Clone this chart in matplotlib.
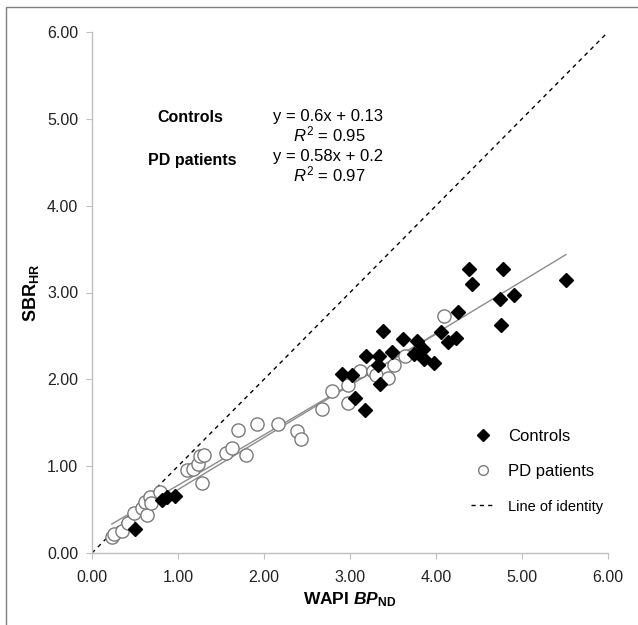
import matplotlib
matplotlib.use("Agg")
import matplotlib.pyplot as plt
from matplotlib.lines import Line2D
from matplotlib.patches import Rectangle

plt.rcParams['font.family'] = ['Liberation Sans', 'DejaVu Sans']
plt.rcParams['mathtext.fontset'] = 'custom'
plt.rcParams['mathtext.rm'] = 'Liberation Sans'
plt.rcParams['mathtext.it'] = 'Liberation Sans:italic'
plt.rcParams['mathtext.bf'] = 'Liberation Sans:bold'
plt.rcParams['mathtext.bfit'] = 'Liberation Sans:bold:italic'

# controls (filled diamonds)
controls_x = [0.50, 0.81, 0.87, 0.96, 2.91, 3.02, 3.06, 3.17, 3.19, 3.33, 3.34, 3.35,
              3.38, 3.49, 3.62, 3.74, 3.78, 3.85, 3.86, 3.98, 4.06, 4.14, 4.23, 4.26,
              4.38, 4.42, 4.74, 4.76, 4.78, 4.91, 5.51]
controls_y = [0.28, 0.61, 0.64, 0.66, 2.06, 2.05, 1.79, 1.65, 2.27, 2.16, 2.27, 1.95,
              2.56, 2.32, 2.47, 2.29, 2.44, 2.35, 2.23, 2.19, 2.55, 2.43, 2.48, 2.78,
              3.27, 3.10, 2.93, 2.63, 3.27, 2.97, 3.14]

# PD patients (open circles)
pd_x = [0.23, 0.26, 0.35, 0.42, 0.49, 0.58, 0.64, 0.62, 0.67, 0.69, 0.79, 1.10,
        1.17, 1.23, 1.26, 1.30, 1.28, 1.56, 1.63, 1.79, 1.70, 1.92, 2.16, 2.38,
        2.43, 2.67, 2.79, 2.98, 2.98, 3.12, 3.27, 3.30, 3.44, 3.51, 3.64, 4.09]
pd_y = [0.19, 0.22, 0.25, 0.34, 0.46, 0.52, 0.44, 0.59, 0.64, 0.58, 0.70, 0.96,
        0.97, 1.02, 1.12, 1.13, 0.81, 1.15, 1.21, 1.13, 1.42, 1.49, 1.48, 1.40,
        1.31, 1.66, 1.87, 1.94, 1.73, 2.10, 2.10, 2.05, 2.02, 2.16, 2.27, 2.73]

# regression fits: slope, intercept
ctrl_fit = (0.6, 0.13)
pd_fit = (0.58, 0.2)
ticks = [0, 1, 2, 3, 4, 5, 6]

fig = plt.figure(figsize=(6.38, 6.25), dpi=100)
ax = fig.add_axes([92 / 638, 1 - 553 / 625, 516 / 638, 521 / 625])

# frame round the whole picture
fig.patches.append(Rectangle((6 / 638, -0.01), 1.0, 1 - 7 / 625 + 0.01,
                             transform=fig.transFigure, fill=False,
                             edgecolor='#7f7f7f', linewidth=1.0))

ax.plot([0, 6], [0, 6], color='black', linestyle=(0, (3, 3)), linewidth=1.0, zorder=1)

for xs, (m, b) in [(controls_x, ctrl_fit), (pd_x, pd_fit)]:
    x0, x1 = min(xs), max(xs)
    ax.plot([x0, x1], [m * x0 + b, m * x1 + b], color='#8c8c8c', linewidth=1.0, zorder=2)

ax.plot(pd_x, pd_y, linestyle='none', marker='o', markersize=9.5,
        markerfacecolor='white', markeredgecolor='#7a7a7a', markeredgewidth=1.0, zorder=3)
ax.plot(controls_x, controls_y, linestyle='none', marker='D', markersize=7,
        color='black', zorder=4)

ax.set_xlim(0, 6)
ax.set_ylim(0, 6)
ax.set_xticks(ticks)
ax.set_yticks(ticks)
ax.set_xticklabels(['%.2f' % t for t in ticks])
ax.set_yticklabels(['%.2f' % t for t in ticks])
ax.tick_params(direction='out', length=4, width=0.8, color='#bfbfbf',
               labelsize=11.5, labelcolor='#222222')
ax.tick_params(axis='x', pad=8)
ax.tick_params(axis='y', pad=6)
for s in ['top', 'right']:
    ax.spines[s].set_visible(False)
for s in ['left', 'bottom']:
    ax.spines[s].set_color('#bfbfbf')
    ax.spines[s].set_linewidth(1.0)

ax.set_xlabel(r'WAPI $\mathbfit{BP}_{\mathbf{ND}}$', fontsize=12.5, fontweight='bold', labelpad=4)
ax.set_ylabel(r'$\mathbf{SBR}_{\mathbf{HR}}$', fontsize=13, labelpad=4)

# fit equations
fig.text(190 / 638, 1 - 118 / 625, 'Controls', fontsize=11.5, fontweight='bold',
         ha='center', va='center')
fig.text(328 / 638, 1 - 117 / 625, 'y = 0.6x + 0.13', fontsize=12, ha='center', va='center')
fig.text(329 / 638, 1 - 134 / 625, r'$\mathit{R}^{2}$ = 0.95', fontsize=12, ha='center', va='center')
fig.text(192 / 638, 1 - 160 / 625, 'PD patients', fontsize=11.5, fontweight='bold',
         ha='center', va='center')
fig.text(328 / 638, 1 - 157 / 625, 'y = 0.58x + 0.2', fontsize=12, ha='center', va='center')
fig.text(329 / 638, 1 - 174 / 625, r'$\mathit{R}^{2}$ = 0.97', fontsize=12, ha='center', va='center')

handles = [
    Line2D([], [], linestyle='none', marker='D', markersize=6, color='black'),
    Line2D([], [], linestyle='none', marker='o', markersize=7, markerfacecolor='white',
           markeredgecolor='#7a7a7a'),
    Line2D([], [], color='black', linestyle=(0, (3, 3)), linewidth=1.0),
]
leg = ax.legend(handles, ['Controls', 'PD patients', 'Line of identity'],
                loc='upper left', bbox_to_anchor=(456 / 638, 1 - 414 / 625),
                bbox_transform=fig.transFigure, frameon=False, fontsize=12,
                handlelength=1.4, handletextpad=0.8, labelspacing=1.2)
leg.get_texts()[2].set_fontsize(10.5)

fig.savefig('out.png', dpi=100)
